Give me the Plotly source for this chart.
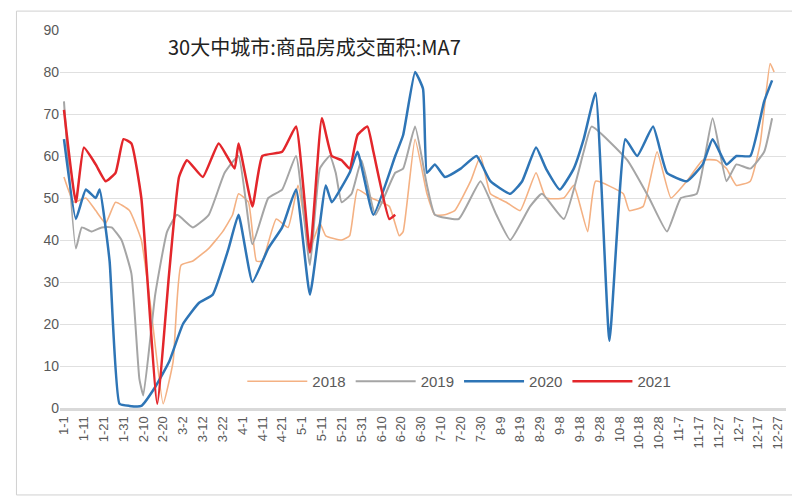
import plotly.graph_objects as go
import pandas as pd

d2018 = [0,5,11,16,21,26,33,39,44,50,55,59,65,73,80,85,88,93,97,100,107,113,118,124,129,132,140,144,148,155,164,169,171,177,183,187,192,197,205,210,215,223,230,238,243,252,257,264,268,282,285,292,299,306,314,322,329,334,339,346,351,356,358]
v2018 = [55,49,50,47,44,49,47,40,23,1,11,34,35,38,42,46,51,49,35,35,45,43,53,38,44,41,40,41,52,50,48,41,42,64,51,46,46,47,54,60,51,49,47,56,50,50,53,42,54,51,47,48,61,50,54,59,59,57,53,54,63,82,80]

d2019 = [0,6,9,14,19,24,29,34,38,40,46,52,57,65,73,81,88,95,103,110,117,124,129,134,137,140,145,150,157,167,171,177,183,187,199,210,218,225,235,241,252,262,266,284,295,304,311,319,327,334,339,346,353,357]
v2019 = [73,38,43,42,43,43,40,32,7,3,27,42,46,43,46,56,60,39,50,52,60,34,57,60,56,49,51,59,46,56,57,67,53,46,45,54,46,40,48,51,45,61,67,59,50,42,50,51,69,54,58,57,61,69]

d2020 = [0,6,11,16,18,23,28,33,39,46,53,60,68,75,83,88,95,103,110,117,124,132,135,144,148,156,167,171,177,181,183,187,192,200,208,215,225,231,238,243,250,257,262,268,275,283,289,297,304,314,322,327,334,339,346,353,357]
v2020 = [64,45,52,50,52,35,1,0.5,0.5,5,11,20,25,27,38,46,30,38,43,52,27,53,49,56,61,46,60,65,80,76,56,58,55,57,60,54,51,54,62,57,52,57,64,75,16,64,60,67,56,54,58,64,58,60,60,73,78]

d2021 = [0,6,10,16,21,26,30,34,39,47,53,58,62,70,78,86,88,95,100,110,117,124,130,135,140,144,148,153,156,164,167]
v2021 = [71,49,62,58,54,56,64,63,50,1,32,55,59,55,63,57,63,48,60,61,67,37,69,60,59,57,65,67,61,45,46]

tick_days = list(range(0, 365, 10))
tick_text = [f"{d.month}-{d.day}" for d in pd.date_range("2021-01-01", periods=365)[tick_days]]

fig = go.Figure()
for name, d, v, c, w in [("2018", d2018, v2018, "#F4B183", 1.6), ("2019", d2019, v2019, "#A5A5A5", 2),
                         ("2020", d2020, v2020, "#2E75B6", 2.5), ("2021", d2021, v2021, "#E3262B", 2.5)]:
    fig.add_trace(go.Scatter(x=d, y=v, name=name, mode="lines", line=dict(color=c, width=w, shape="spline", smoothing=0.4)))

fig.update_layout(
    width=800, height=500, paper_bgcolor="white", plot_bgcolor="white",
    margin=dict(l=52, r=22, t=22, b=100),
    font=dict(family="Liberation Sans, Arial", color="#595959", size=14),
    title=dict(text="30大中城市:商品房成交面积:MA7", x=0.2, xanchor="left", y=0.92, yanchor="middle",
               font=dict(size=20, color="#222", family="Noto Sans CJK SC")),
    legend=dict(orientation="h", x=0.55, xanchor="center", y=0.07, yanchor="middle",
                bgcolor="rgba(0,0,0,0)", font=dict(size=15), itemwidth=60),
    xaxis=dict(range=[-2, 364], tickmode="array", tickvals=tick_days, ticktext=tick_text,
               tickangle=-90, showgrid=False, showline=True, linecolor="#d9d9d9", linewidth=3,
               tickfont=dict(size=13), zeroline=False),
    yaxis=dict(range=[0, 90], dtick=10, showgrid=True, gridcolor="#e0e0e0", zeroline=False,
               showline=False, tickfont=dict(size=14)),
    shapes=[dict(type="rect", xref="paper", yref="paper", x0=-0.06, x1=1.02, y0=-0.23, y1=1.05,
                 line=dict(color="#d0d0d0", width=1))],
)
fig.write_html("out.html")
